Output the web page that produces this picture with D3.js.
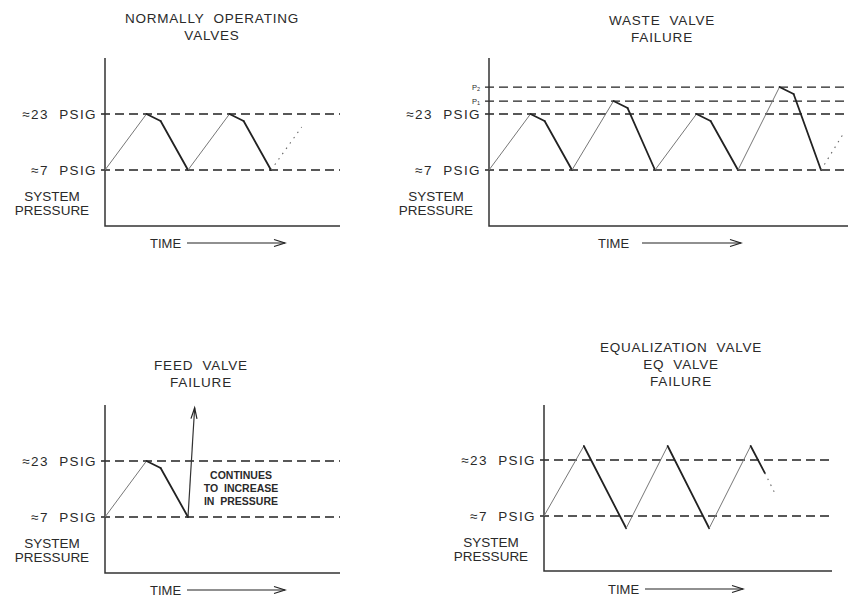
<!DOCTYPE html>
<html>
<head>
<meta charset="utf-8">
<script src="https://cdn.jsdelivr.net/npm/d3@7"></script>
<style>
  body { margin: 0; background: #fff; }
  text { font-family: "Liberation Sans", Arial, sans-serif; fill: #2a2a2a; }
</style>
</head>
<body>
<svg width="848" height="600"></svg>
<script>
const width = 848;
const height = 600;

// pressure levels (psig); p1 / p2 are the raised waste-valve peaks
const psigHigh = 23;
const psigLow = 7;
const p1 = 26.7;
const p2 = 30.7;

// normally operating valves
const normalTime = [0, 5, 6.7, 10, 15, 16.7, 20];
const normalPressure = [7, 23, 21, 7, 23, 21, 7];
const normalTrailTime = [20, 23.7];
const normalTrailPressure = [7, 19.3];

// waste valve failure
const wasteTime = [0, 5, 6.7, 10, 15, 16.7, 20, 25, 26.7, 30, 35, 36.7, 40];
const wastePressure = [7, 23, 21, 7, 26.7, 24.7, 7, 23, 21, 7, 30.7, 28.7, 7];
const wasteTrailTime = [40, 42.6];
const wasteTrailPressure = [7, 17];

// feed valve failure
const feedTime = [0, 5, 6.7, 10];
const feedPressure = [7, 23, 21, 7];
const feedArrowTime = [10, 10.8];
const feedArrowPressure = [7, 38.2];

// equalization valve failure
const eqTime = [0, 4.8, 9.9, 14.9, 19.9, 24.9, 26.6];
const eqPressure = [7, 27, 3.5, 27, 3.5, 27, 19.3];
const eqTrailTime = [26.6, 27.8];
const eqTrailPressure = [19.3, 13.6];

const titles = [
  ["NORMALLY  OPERATING", "VALVES"],
  ["WASTE  VALVE", "FAILURE"],
  ["FEED  VALVE", "FAILURE"],
  ["EQUALIZATION  VALVE", "EQ  VALVE", "FAILURE"]
];
const levelLabels = ["\u224823  PSIG", "\u22487  PSIG"];
const axisLabel = ["SYSTEM", "PRESSURE"];
const timeLabel = "TIME";
const feedNote = ["CONTINUES", "TO  INCREASE", "IN  PRESSURE"];

const zip = (t, p) => t.map((d, i) => ({ t: d, p: p[i] }));

const panels = [
  { x0: 105, xEnd: 340, yTop: 58, yBot: 226, yLow: 170, yHigh: 114,
    titleX: 212, titleY: 23, timeX: 150, timeY: 243, arrowX: [187, 285],
    series: zip(normalTime, normalPressure), trail: zip(normalTrailTime, normalTrailPressure),
    levels: [psigHigh, psigLow], title: titles[0] },
  { x0: 489, xEnd: 848, yTop: 58, yBot: 226, yLow: 170, yHigh: 114,
    titleX: 662, titleY: 25, timeX: 598, timeY: 243, arrowX: [642, 741],
    series: zip(wasteTime, wastePressure), trail: zip(wasteTrailTime, wasteTrailPressure),
    levels: [p2, p1, psigHigh, psigLow], title: titles[1], pLabels: true },
  { x0: 105, xEnd: 340, yTop: 405, yBot: 573, yLow: 517, yHigh: 461,
    titleX: 201, titleY: 370, timeX: 150, timeY: 590, arrowX: [187, 285],
    series: zip(feedTime, feedPressure), arrow: zip(feedArrowTime, feedArrowPressure),
    levels: [psigHigh, psigLow], title: titles[2], note: true },
  { x0: 544, xEnd: 832, yTop: 405, yBot: 571, yLow: 516, yHigh: 460,
    titleX: 681, titleY: 352, timeX: 608, timeY: 589, arrowX: [645, 743],
    series: zip(eqTime, eqPressure), trail: zip(eqTrailTime, eqTrailPressure),
    levels: [psigHigh, psigLow], title: titles[3] }
];

const svg = d3.select("svg");

function arrowHead(g, x1, y1, x2, y2, len, half) {
  const a = Math.atan2(y2 - y1, x2 - x1);
  const pts = [-1, 1].map(s => [
    x2 - len * Math.cos(a) + s * half * Math.sin(a),
    y2 - len * Math.sin(a) - s * half * Math.cos(a)
  ]);
  g.append("path")
    .attr("d", `M${pts[0][0]},${pts[0][1]}L${x2},${y2}L${pts[1][0]},${pts[1][1]}`)
    .attr("fill", "none")
    .attr("stroke", "#222")
    .attr("stroke-width", 1.2);
}

panels.forEach(pn => {
  const g = svg.append("g");
  const x = d3.scaleLinear().domain([0, 10]).range([pn.x0, pn.x0 + 83]);
  const y = d3.scaleLinear().domain([psigLow, psigHigh]).range([pn.yLow, pn.yHigh]);

  // title
  g.append("text")
    .attr("text-anchor", "middle")
    .attr("font-size", 13.5)
    .attr("letter-spacing", 0.8)
    .selectAll("tspan")
    .data(pn.title)
    .join("tspan")
    .attr("x", pn.titleX)
    .attr("y", (d, i) => pn.titleY + i * 17)
    .attr("xml:space", "preserve")
    .text(d => d);

  // dashed reference levels
  g.selectAll("line.level")
    .data(pn.levels)
    .join("line")
    .attr("class", "level")
    .attr("x1", pn.x0 - 4)
    .attr("x2", pn.xEnd)
    .attr("y1", d => y(d))
    .attr("y2", d => y(d))
    .attr("stroke", "#222")
    .attr("stroke-width", 1.3)
    .attr("stroke-dasharray", "9,5");

  // axes
  g.append("path")
    .attr("d", `M${pn.x0},${pn.yTop}V${pn.yBot}H${pn.xEnd}`)
    .attr("fill", "none")
    .attr("stroke", "#333")
    .attr("stroke-width", 1.5);

  // level labels
  g.selectAll("text.lvl")
    .data([psigHigh, psigLow])
    .join("text")
    .attr("class", "lvl")
    .attr("x", pn.x0 - 8)
    .attr("y", d => y(d) + 5)
    .attr("text-anchor", "end")
    .attr("font-size", 13.5)
    .attr("letter-spacing", 1.4)
    .attr("xml:space", "preserve")
    .text((d, i) => levelLabels[i]);

  if (pn.pLabels) {
    g.selectAll("text.plab")
      .data([[p2, "2"], [p1, "1"]])
      .join("text")
      .attr("class", "plab")
      .attr("x", pn.x0 - 9)
      .attr("y", d => y(d[0]) + 2.5)
      .attr("text-anchor", "end")
      .attr("font-size", 7.5)
      .text("P")
      .append("tspan")
      .attr("font-size", 5.5)
      .attr("dy", 1)
      .text(d => d[1]);
  }

  g.append("text")
    .attr("text-anchor", "middle")
    .attr("font-size", 13.5)
    .selectAll("tspan")
    .data(axisLabel)
    .join("tspan")
    .attr("x", pn.x0 - 53)
    .attr("y", (d, i) => y(psigLow) + 31 + i * 14)
    .text(d => d);

  // time label + arrow
  g.append("text")
    .attr("x", pn.timeX)
    .attr("y", pn.timeY + 5)
    .attr("font-size", 13)
    .text(timeLabel);
  g.append("line")
    .attr("x1", pn.arrowX[0]).attr("x2", pn.arrowX[1])
    .attr("y1", pn.timeY).attr("y2", pn.timeY)
    .attr("stroke", "#222").attr("stroke-width", 1.2);
  arrowHead(g, pn.arrowX[0], pn.timeY, pn.arrowX[1], pn.timeY, 11, 3.5);

  // pressure trace: rising segments thin, falling thick
  g.selectAll("line.seg")
    .data(d3.pairs(pn.series))
    .join("line")
    .attr("class", "seg")
    .attr("x1", d => x(d[0].t)).attr("y1", d => y(d[0].p))
    .attr("x2", d => x(d[1].t)).attr("y2", d => y(d[1].p))
    .attr("stroke", d => d[1].p > d[0].p ? "#777" : "#222")
    .attr("stroke-width", d => d[1].p > d[0].p ? 1 : 1.8)
    .attr("stroke-linecap", "round");

  if (pn.trail) {
    g.append("line")
      .attr("x1", x(pn.trail[0].t)).attr("y1", y(pn.trail[0].p))
      .attr("x2", x(pn.trail[1].t)).attr("y2", y(pn.trail[1].p))
      .attr("stroke", "#666")
      .attr("stroke-width", 1.1)
      .attr("stroke-dasharray", "1.5,5");
  }

  if (pn.arrow) {
    const a0 = pn.arrow[0], a1 = pn.arrow[1];
    g.append("line")
      .attr("x1", x(a0.t)).attr("y1", y(a0.p))
      .attr("x2", x(a1.t)).attr("y2", y(a1.p))
      .attr("stroke", "#333").attr("stroke-width", 1.2);
    arrowHead(g, x(a0.t), y(a0.p), x(a1.t), y(a1.p), 11, 3);
  }

  if (pn.note) {
    g.append("text")
      .attr("text-anchor", "middle")
      .attr("font-size", 10.5)
      .attr("font-weight", "bold")
      .attr("fill", "#333")
      .selectAll("tspan")
      .data(feedNote)
      .join("tspan")
      .attr("x", 241)
      .attr("y", (d, i) => y(psigHigh) + 18 + i * 13)
      .attr("xml:space", "preserve")
      .text(d => d);
  }
});
</script>
</body>
</html>
